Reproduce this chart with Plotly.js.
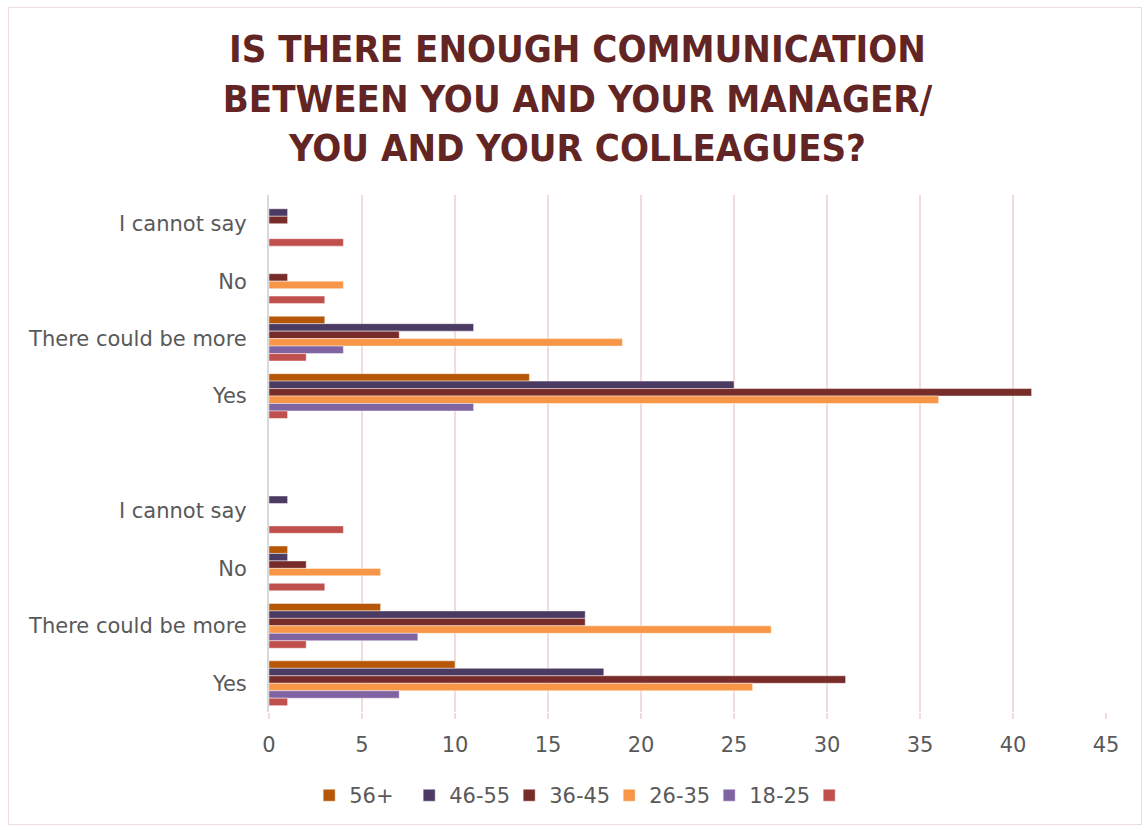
<!DOCTYPE html>
<html>
<head>
<meta charset="utf-8">
<script src="https://cdn.plot.ly/plotly-3.0.1.min.js"></script>
<style>
  html, body { margin: 0; padding: 0; background: #ffffff; }
  #wrap { position: relative; width: 1148px; height: 830px; }
  #chart { width: 1148px; height: 830px; }
  #frame { position: absolute; left: 8px; top: 7px; width: 1134px; height: 818px;
           border: 1px solid #F2DCDB; pointer-events: none; box-sizing: border-box; }
</style>
</head>
<body>
<div id="wrap">
  <div id="chart"></div>
  <div id="frame"></div>
</div>
<script>
// Categories from top to bottom ("" is the empty spacer row between the two blocks)
const categories = ["I cannot say", "No", "There could be more", "Yes", "",
                    "I cannot say", "No", "There could be more", "Yes"];

const seriesNames = ["56+", "46-55", "36-45", "26-35", "18-25", ""];
const seriesColors = ["#B65708", "#4B3A62", "#772C2A", "#F79646", "#8064A2", "#C0504D"];

// Values per series, in the same order as categories (null = spacer row)
const s56plus = [0, 0, 3, 14, null, 0, 1, 6, 10];
const s46_55  = [1, 0, 11, 25, null, 1, 1, 17, 18];
const s36_45  = [1, 1, 7, 41, null, 0, 2, 17, 31];
const s26_35  = [0, 4, 19, 36, null, 0, 6, 27, 26];
const s18_25  = [0, 0, 4, 11, null, 0, 0, 8, 7];
const sBlank  = [4, 3, 2, 1, null, 4, 3, 2, 1];

const seriesValues = [s56plus, s46_55, s36_45, s26_35, s18_25, sBlank];

const xTicks = [0, 5, 10, 15, 20, 25, 30, 35, 40, 45];

const positions = categories.map((c, i) => i);

const traces = seriesNames.map((name, k) => ({
  type: "bar",
  orientation: "h",
  name: name === "" ? " " : name,
  x: seriesValues[k],
  y: positions,
  marker: { color: seriesColors[k], line: { color: "rgba(255,255,255,0.45)", width: 1 } },
  hoverinfo: "x+name"
}));

const layout = {
  width: 1148,
  height: 830,
  paper_bgcolor: "#ffffff",
  plot_bgcolor: "#ffffff",
  margin: { l: 269, r: 42, t: 195, b: 118, autoexpand: false },
  title: {
    text: "IS THERE ENOUGH COMMUNICATION<br>BETWEEN YOU AND YOUR MANAGER/<br>YOU AND YOUR COLLEAGUES?",
    font: { family: "DejaVu Sans Condensed, DejaVu Sans, sans-serif", size: 38, color: "#632523", weight: "bold" },
    x: 0.503, xanchor: "center",
    y: 0.925, yanchor: "top"
  },
  barmode: "group",
  bargap: 0.22,
  bargroupgap: 0,
  xaxis: {
    range: [0, 45],
    tickvals: xTicks,
    ticktext: xTicks.map(String),
    showgrid: true,
    gridcolor: "#F2DCDB",
    gridwidth: 2,
    zeroline: false,
    ticks: "outside",
    ticklen: 6,
    tickcolor: "#F2DCDB",
    tickwidth: 2,
    ticklabelstandoff: 8,
    tickfont: { family: "DejaVu Sans, sans-serif", size: 21, color: "#595959" },
    showline: false,
    fixedrange: true
  },
  yaxis: {
    range: [categories.length - 0.5, -0.5],
    tickvals: positions,
    ticktext: categories,
    showgrid: false,
    zeroline: false,
    showline: true,
    linecolor: "#D9D9D9",
    linewidth: 2,
    ticks: "",
    ticklabelstandoff: 16,
    tickfont: { family: "DejaVu Sans, sans-serif", size: 21, color: "#595959" },
    fixedrange: true
  },
  showlegend: true,
  legend: {
    orientation: "h",
    x: 0.048, xanchor: "left",
    y: -0.122, yanchor: "top",
    font: { family: "DejaVu Sans, sans-serif", size: 21, color: "#595959" },
    traceorder: "normal",
    itemwidth: 30,
    entrywidth: 55,
    entrywidthmode: "pixels"
  }
};

Plotly.newPlot("chart", traces, layout, { displayModeBar: false, staticPlot: true });
</script>
</body>
</html>
